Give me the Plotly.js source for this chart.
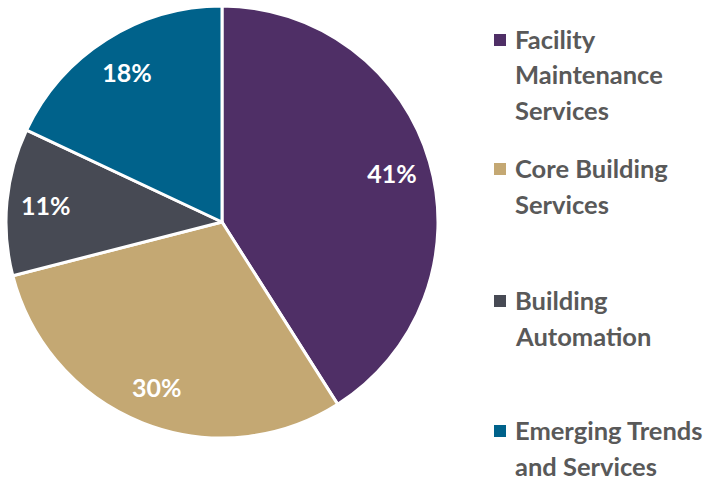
<!DOCTYPE html>
<html>
<head>
<meta charset="utf-8">
<script src="https://cdn.plot.ly/plotly-3.0.1.min.js"></script>
<style>html,body{margin:0;padding:0;background:#fff;}#chart{width:727px;height:481px;}</style>
</head>
<body>
<div id="chart"></div>
<script>
const categories = ["Facility<br>Maintenance<br>Services", "Core Building<br>Services", "Building<br>Automation", "Emerging Trends<br>and Services"];
const shares = [41, 30, 11, 18];
const colors = ["#4f2f66", "#c4a873", "#474a54", "#00628b"];
const legendTopY = [39, 168, 300, 430]; // pixel centers of first text line

const W = 727, H = 481;
const lineGap = 35.5;
const annotations = [];
const shapes = [];
categories.forEach((c, i) => {
  const lines = c.split("<br>");
  lines.forEach((ln, j) => {
    const yc = legendTopY[i] + j * lineGap;
    annotations.push({
      xref: "paper", yref: "paper", x: 513 / W, y: 1 - yc / H,
      xanchor: "left", yanchor: "middle", showarrow: false, text: ln,
      font: {family: "Lato, sans-serif", size: 25.5, color: "#595959", weight: 700}
    });
  });
  const yc = legendTopY[i] + 1;
  shapes.push({
    type: "rect", xref: "paper", yref: "paper",
    x0: 494 / W, x1: 506 / W, y0: 1 - (yc + 6) / H, y1: 1 - (yc - 6) / H,
    fillcolor: colors[i], line: {width: 0}
  });
});

const dom = {x: [6 / W, 438 / W], y: [1 - 438 / H, 1 - 6 / H]};
const pieBase = {
  type: "pie",
  labels: categories.map(c => c.replace(/<br>/g, " ")),
  values: shares,
  sort: false,
  direction: "clockwise",
  rotation: 0,
  hoverinfo: "none",
  domain: dom,
  showlegend: false
};

const slices = Object.assign({}, pieBase, {
  marker: {colors: colors, line: {color: "#ffffff", width: 3}},
  textinfo: "none"
});

const labelsRing = Object.assign({}, pieBase, {
  hole: 0.64,
  marker: {colors: colors.map(() => "rgba(0,0,0,0)"), line: {width: 0}},
  texttemplate: "%{value}%",
  textposition: "inside",
  insidetextorientation: "horizontal",
  textfont: {family: "Lato, sans-serif", size: 25, color: "#ffffff", weight: 700}
});

Plotly.newPlot("chart", [slices, labelsRing], {
  width: W, height: H,
  margin: {l: 0, r: 0, t: 0, b: 0},
  paper_bgcolor: "#ffffff",
  showlegend: false,
  annotations: annotations,
  shapes: shapes
}, {staticPlot: true});
</script>
</body>
</html>
